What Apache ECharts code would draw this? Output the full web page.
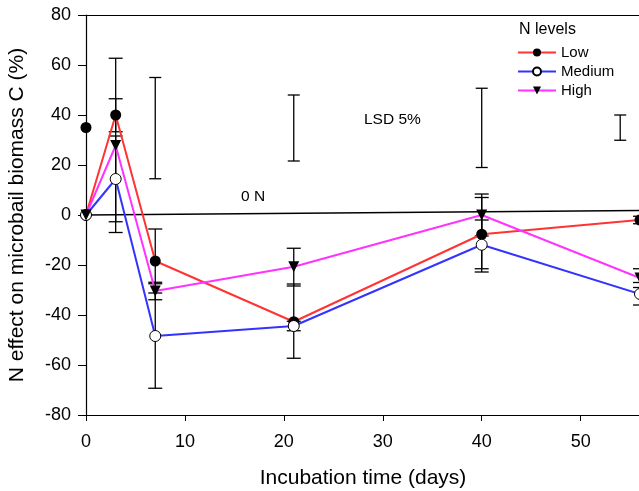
<!DOCTYPE html>
<html>
<head>
<meta charset="utf-8">
<script src="https://cdn.jsdelivr.net/npm/echarts@6/dist/echarts.min.js"></script>
<style>html,body{margin:0;padding:0;background:#fff}#c{width:639px;height:491px}</style>
</head>
<body>
<div id="c"></div>
<script>
// ---- data ----
var days = [0, 3, 7, 21, 40, 56];
var lowVals = [0, 40, -18.4, -42.7, -7.7, -2];
var mediumVals = [0, 14.4, -48.4, -44.4, -11.9, -31.6];
var highVals = [0, 27.8, -30.4, -20.7, 0, -25.2];
var lowErrLo = [null, 33.3, -31.2, -57.3, -22.8, -3.5];
var lowErrHi = [null, 46.5, -5.6, -27.6, 7.0, -0.5];
var medErrLo = [null, -2.7, -69.3, -46.3, -21.5, -36.0];
var medErrHi = [null, 31.6, -27.5, -42.5, -2.0, -27.0];
var highErrLo = [null, -7.0, -33.9, -28.4, -8.4, -29.0];
var highErrHi = [null, 62.7, -26.9, -13.3, 8.4, -21.5];
var extraDay = [0];
var extraVal = [35];
var lsdDays = [7, 21, 40, 54];
var lsdLo = [14.5, 21.6, 19.0, 29.9];
var lsdHi = [55.0, 48.0, 50.7, 40.0];
var zeroNDays = [0, 56];
var zeroNVals = [0, 1.8];
var xTicks = [0, 10, 20, 30, 40, 50];
var yTicks = [-80, -60, -40, -20, 0, 20, 40, 60, 80];

var FONT = '"Liberation Sans", Arial, sans-serif';

function pairs(xs, ys) { return xs.map(function (x, i) { return [x, ys[i]]; }); }
function errData(xs, lo, hi) {
  var out = [];
  xs.forEach(function (x, i) { if (lo[i] !== null) out.push([x, lo[i], hi[i]]); });
  return out;
}
function makeErrRender(half) {
  return function (params, api) {
    var x = api.value(0), lo = api.value(1), hi = api.value(2);
    var a = api.coord([x, hi]), b = api.coord([x, lo]);
    var st = { stroke: '#000', lineWidth: 1.3 };
    return { type: 'group', children: [
      { type: 'line', shape: { x1: a[0], y1: a[1], x2: b[0], y2: b[1] }, style: st },
      { type: 'line', shape: { x1: a[0] - half, y1: a[1], x2: a[0] + half, y2: a[1] }, style: st },
      { type: 'line', shape: { x1: b[0] - half, y1: b[1], x2: b[0] + half, y2: b[1] }, style: st }
    ]};
  };
}
function errSeries(name, data, half) {
  return { name: name, type: 'custom', renderItem: makeErrRender(half), data: data,
    encode: { x: 0, y: [1, 2] }, z: 3, clip: false, silent: true };
}

var chart = echarts.init(document.getElementById('c'), null, { renderer: 'canvas' });
chart.setOption({
  animation: false,
  backgroundColor: '#fff',
  textStyle: { fontFamily: FONT },
  grid: { left: 86, right: -1, top: 15, bottom: 76, show: false, outerBoundsMode: 'none', containLabel: false },
  xAxis: [{
    type: 'value', min: 0, max: 56, interval: 10,
    name: 'Incubation time (days)', nameLocation: 'middle', nameGap: 53,
    nameTextStyle: { fontSize: 21, color: '#000', fontFamily: FONT },
    axisLine: { show: true, onZero: false, lineStyle: { color: '#000', width: 1.2 } },
    axisTick: { show: true, length: 6, lineStyle: { color: '#000' } },
    axisLabel: { fontSize: 18, color: '#000', margin: 18, fontFamily: FONT,
      formatter: function (v) { return xTicks.indexOf(v) >= 0 ? String(v) : ''; } },
    splitLine: { show: false }
  }, {
    type: 'value', min: 0, max: 56, position: 'top',
    axisLine: { show: true, onZero: false, lineStyle: { color: '#000', width: 1.2 } },
    axisTick: { show: false }, axisLabel: { show: false }, splitLine: { show: false }
  }],
  yAxis: {
    type: 'value', min: -80, max: 80, interval: 20,
    name: 'N effect on microbail biomass C (%)', nameLocation: 'middle', nameGap: 58,
    nameTextStyle: { fontSize: 21, color: '#000', fontFamily: FONT },
    axisLine: { show: true, onZero: false, lineStyle: { color: '#000', width: 1.2 } },
    axisTick: { show: true, length: 8, lineStyle: { color: '#000' } },
    axisLabel: { fontSize: 18, color: '#000', margin: 15, fontFamily: FONT,
      formatter: function (v) { return yTicks.indexOf(v) >= 0 ? String(v) : ''; } },
    splitLine: { show: false }
  },
  legend: {
    data: ['Low', 'Medium', 'High'],
    orient: 'vertical', left: 512, top: 38,
    itemWidth: 38, itemHeight: 10, itemGap: 0,
    textStyle: { fontSize: 15, color: '#000', lineHeight: 19, fontFamily: FONT },
    selectedMode: false
  },
  graphic: [
    { type: 'text', left: 519, top: 22, style: { text: 'N levels', font: '16px ' + FONT, fill: '#000' } },
    { type: 'text', left: 241, top: 189, style: { text: '0 N', font: '15.5px ' + FONT, fill: '#000' } },
    { type: 'text', left: 364, top: 112, style: { text: 'LSD 5%', font: '15.5px ' + FONT, fill: '#000' } }
  ],
  series: [
    { name: '0N', type: 'line', data: pairs(zeroNDays, zeroNVals), symbol: 'none',
      lineStyle: { color: '#000', width: 1.5 }, z: 1, silent: true },
    { name: 'Low', type: 'line', data: pairs(days, lowVals), symbol: 'circle', symbolSize: 11,
      lineStyle: { color: '#ff3333', width: 2 }, itemStyle: { color: '#000' }, z: 4, clip: false },
    { name: 'Medium', type: 'line', data: pairs(days, mediumVals), symbol: 'circle', symbolSize: 11,
      lineStyle: { color: '#3333ff', width: 2 }, itemStyle: { color: '#fff', borderColor: '#000', borderWidth: 1 }, z: 4, clip: false },
    { name: 'High', type: 'line', data: pairs(days, highVals), symbol: 'triangle', symbolRotate: 180, symbolSize: 11,
      lineStyle: { color: '#ff33ff', width: 2 }, itemStyle: { color: '#000' }, z: 4, clip: false },
    { name: 'extra', type: 'scatter', data: pairs(extraDay, extraVal), symbol: 'circle', symbolSize: 11,
      itemStyle: { color: '#000', opacity: 1 }, z: 4, clip: false },
    errSeries('errLow', errData(days, lowErrLo, lowErrHi), 7),
    errSeries('errMed', errData(days, medErrLo, medErrHi), 7),
    errSeries('errHigh', errData(days, highErrLo, highErrHi), 7),
    errSeries('lsd', errData(lsdDays, lsdLo, lsdHi), 6)
  ]
});
</script>
</body>
</html>
